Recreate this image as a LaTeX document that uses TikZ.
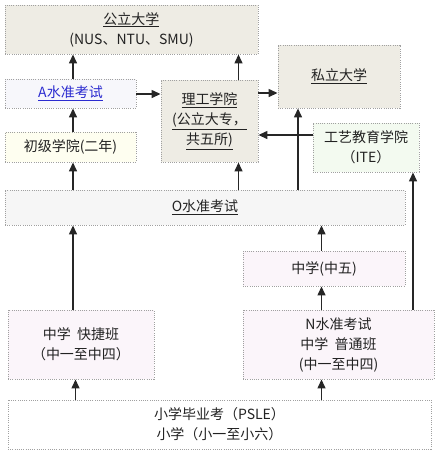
\documentclass[tikz,border=0pt]{standalone}
\usepackage{fontspec}
\setmainfont{Noto Sans CJK SC}
\usetikzlibrary{arrows.meta}
\definecolor{beige}{HTML}{EEECE4}
\definecolor{alev}{HTML}{F7F7FB}
\definecolor{jcol}{HTML}{FEFEF0}
\definecolor{itec}{HTML}{F3FAF0}
\definecolor{olev}{HTML}{F6F6F6}
\definecolor{pinkc}{HTML}{FBF5FA}
\definecolor{txt}{HTML}{222222}
\definecolor{bluet}{HTML}{2B2BD0}
\definecolor{bord}{HTML}{A0A0A0}
\newcommand{\ul}[1]{\underline{#1}}
\tikzset{
  box/.style={draw=bord, line width=0.9pt, dash pattern=on 1pt off 1.2pt, inner sep=0pt,
    align=center, text=txt, font=\fontsize{14}{20}\selectfont},
  arr/.style={line width=1.4pt, draw=black!85, -{Triangle[length=9pt,width=8pt]}},
  ln/.style={line width=1.4pt, draw=black!85}
}
\begin{document}
\begin{tikzpicture}[x=1pt,y=-1pt]
\useasboundingbox (0,0) rectangle (440,467);
\node[box, fill=beige, minimum width=253pt, minimum height=49pt] (pub) at (131.5,29.5) {\ul{公立大学}\\(NUS、NTU、SMU)};
\node[box, fill=beige, minimum width=122pt, minimum height=63pt] (priv) at (339,76.5) {\ul{私立大学}};
\node[box, fill=alev, minimum width=131pt, minimum height=29pt, text=bluet] (alevel) at (70.5,93.5) {\ul{A水准考试}};
\node[box, fill=beige, minimum width=97pt, minimum height=82pt] (poly) at (209.5,121) {\ul{理工学院}\\\ul{(公立大专，}\\\ul{共五所)}};
\node[box, fill=itec, minimum width=106pt, minimum height=49pt] (ite) at (366,147.5) {工艺教育学院\\（ITE）};
\node[box, fill=jcol, minimum width=131pt, minimum height=30pt] (jc) at (70.5,147) {初级学院(二年)};
\node[box, fill=olev, minimum width=400pt, minimum height=35pt] (olevel) at (205,207.5) {\ul{O水准考试}};
\node[box, fill=pinkc, minimum width=162pt, minimum height=35pt] (sec5) at (324,268.5) {中学(中五)};
\node[box, fill=pinkc, minimum width=146pt, minimum height=69pt] (express) at (81,344.5) {中学\ \ 快捷班\\（中一至中四）};
\node[box, fill=pinkc, minimum width=191pt, minimum height=69pt] (normal) at (338.5,344.5) {N水准考试\\中学\ \ 普通班\\(中一至中四)};
\node[box, fill=white, minimum width=423pt, minimum height=49pt] (psle) at (219.5,424.5) {小学毕业考（PSLE）\\小学（小一至小六）};
\coordinate (cA) at (73,0);
\coordinate (cB) at (238.5,0);
\coordinate (cC) at (298,0);
\coordinate (cD) at (321.5,0);
\coordinate (cE) at (413,0);
\coordinate (cF) at (75.5,0);
\coordinate (rA) at (0,94);
\coordinate (rB) at (0,93);
\coordinate (rC) at (0,135);
\draw[arr] (alevel.north -| cA) -- (pub.south -| cA);
\draw[arr] (poly.north -| cB) -- (pub.south -| cB);
\draw[arr] (jc.north -| cA) -- (alevel.south -| cA);
\draw[arr] (olevel.north -| cA) -- (jc.south -| cA);
\draw[arr] (olevel.north -| cB) -- (poly.south -| cB);
\draw[arr] (olevel.north -| cC) -- (priv.south -| cC);
\draw[arr] (alevel.east |- rA) -- (poly.west |- rA);
\draw[arr] (poly.east |- rB) -- (priv.west |- rB);
\draw[arr] (ite.west |- rC) -- (poly.east |- rC);
\draw[arr] (express.north -| cA) -- (olevel.south -| cA);
\draw[arr] (sec5.north -| cD) -- (olevel.south -| cD);
\draw[arr] (normal.north -| cD) -- (sec5.south -| cD);
\draw[arr] (normal.north -| cE) -- (ite.south -| cE);
\draw[arr] (psle.north -| cF) -- (express.south -| cF);
\draw[arr] (psle.north -| cD) -- (normal.south -| cD);
\end{tikzpicture}
\end{document}
